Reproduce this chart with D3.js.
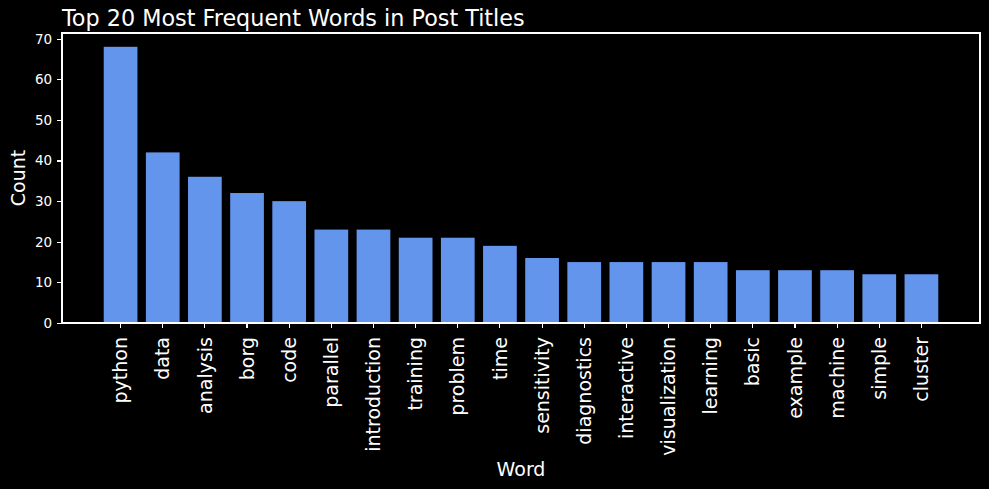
<!DOCTYPE html>
<meta charset="utf-8">
<style>
body { margin: 0; background: #000; }
svg { display: block; }
svg text { font-family: "DejaVu Sans", sans-serif; }
.axis path, .axis line { stroke: #fff; stroke-width: 1.1; shape-rendering: crispEdges; }
.axis text { fill: #fff; }
</style>
<body>
<svg width="989" height="489"></svg>
</body>
<script src="https://d3js.org/d3.v7.min.js"></script>
<script>

// words and counts
var words = ["python", "data", "analysis", "borg", "code", "parallel", "introduction",
  "training", "problem", "time", "sensitivity", "diagnostics", "interactive",
  "visualization", "learning", "basic", "example", "machine", "simple", "cluster"];
var counts = [68, 42, 36, 32, 30, 23, 23, 21, 21, 19, 16, 15, 15, 15, 15, 13, 13, 13, 12, 12];
var yTicks = [0, 10, 20, 30, 40, 50, 60, 70];

var svg = d3.select("svg"),
    margin = {top: 33, right: 9, bottom: 166, left: 62},
    width = +svg.attr("width") - margin.left - margin.right,
    height = +svg.attr("height") - margin.top - margin.bottom;

svg.append("rect").attr("width", 989).attr("height", 489).attr("fill", "#000");

var x = d3.scaleBand().domain(words).range([0, width])
    .paddingInner(0.2).paddingOuter(0.99);
var y = d3.scaleLinear().domain([0, d3.max(counts) * 1.05]).range([height, 0]);

var g = svg.append("g")
    .attr("transform", "translate(" + margin.left + "," + margin.top + ")");

// bars
g.selectAll(".bar")
  .data(words)
  .enter().append("rect")
    .attr("class", "bar")
    .attr("x", function(d) { return x(d); })
    .attr("y", function(d, i) { return y(counts[i]); })
    .attr("width", x.bandwidth())
    .attr("height", function(d, i) { return height - y(counts[i]); })
    .attr("fill", "#6495ED");

// x axis
var xa = g.append("g")
    .attr("class", "axis")
    .attr("transform", "translate(0," + height + ")")
    .call(d3.axisBottom(x).tickSize(4.9).tickSizeOuter(0));
xa.attr("font-family", null).attr("font-size", null);
xa.select(".domain").remove();
xa.selectAll("text")
    .style("font-size", "19px")
    .attr("transform", "rotate(-90)")
    .attr("text-anchor", "end")
    .attr("x", -14)
    .attr("y", 0)
    .attr("dy", "0.35em");

// y axis
var ya = g.append("g")
    .attr("class", "axis")
    .call(d3.axisLeft(y).tickValues(yTicks).tickSize(4.9).tickPadding(4.9));
ya.attr("font-family", null).attr("font-size", null);
ya.select(".domain").remove();
ya.selectAll("text").style("font-size", "13.5px");

// frame
g.append("rect")
    .attr("width", width).attr("height", height)
    .attr("fill", "none").attr("stroke", "#fff").attr("stroke-width", 1.1)
    .attr("shape-rendering", "crispEdges");

// title and labels
svg.append("text")
    .attr("x", margin.left).attr("y", 26)
    .attr("fill", "#fff").style("font-size", "22.3px")
    .text("Top 20 Most Frequent Words in Post Titles");

svg.append("text")
    .attr("x", margin.left + width / 2).attr("y", 476)
    .attr("text-anchor", "middle")
    .attr("fill", "#fff").style("font-size", "19px")
    .text("Word");

svg.append("text")
    .attr("transform", "translate(25," + (margin.top + height / 2) + ") rotate(-90)")
    .attr("text-anchor", "middle")
    .attr("fill", "#fff").style("font-size", "19px")
    .text("Count");

</script>
